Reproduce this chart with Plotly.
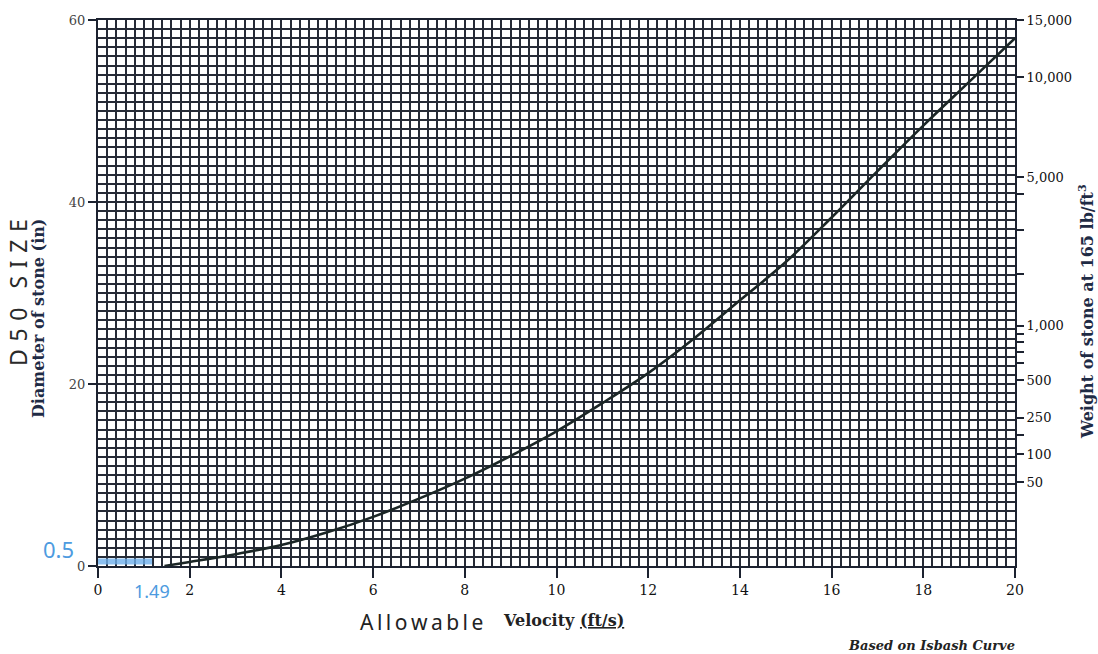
import plotly.graph_objects as go

# Isbash curve: allowable velocity (ft/s) vs. D50 stone diameter (in)
velocity = [1.45, 2, 3, 4, 5, 6, 7, 8, 9, 10, 11, 12, 13, 14, 15, 16, 17, 18, 19, 20]
diameter = [0.0, 0.45, 1.3, 2.3, 3.7, 5.4, 7.4, 9.6, 12.1, 14.8, 17.9, 21.2,
            25.0, 29.2, 33.4, 38.3, 43.4, 48.4, 53.2, 58.0]

# Stone weight scale (lb at 165 lb/ft^3), placed against the diameter scale
weight_pos = [60.0, 53.7, 42.7, 26.4, 20.4, 16.3, 12.3, 9.2]
weight_txt = ["15,000", "10,000", "5,000", "1,000", "500", "250", "100", "50"]
weight_minor_pos = [40.9, 36.9, 32.1, 25.5, 24.6, 23.5, 22.3, 14.4]

# Hand-marked reading: D50 = 0.5 in at 1.49 ft/s
mark_d = 0.5
mark_v = [0.0, 1.18]

INK = "#1c2230"
GRID = "#262b36"
BLUE = "#4d9be0"
SERIF = "DejaVu Serif"
HAND = "Noto Sans"

# plot-area box in page pixels
L, R, T, B = 98, 1015, 20, 566
W, H = 1098, 654

fig = go.Figure()

fig.add_trace(go.Scatter(
    x=mark_v, y=[mark_d, mark_d], mode="lines",
    line=dict(color="rgba(110,175,235,0.8)", width=6),
    hoverinfo="skip", showlegend=False))

fig.add_trace(go.Scatter(
    x=velocity, y=diameter, mode="lines", line_shape="spline",
    line=dict(color="#1b2626", width=2.6), showlegend=False))

# secondary axes carrying the weight ticks (labelled and unlabelled)
fig.add_trace(go.Scatter(x=[None], y=[None], yaxis="y2", showlegend=False,
                         hoverinfo="skip"))
fig.add_trace(go.Scatter(x=[None], y=[None], yaxis="y3", showlegend=False,
                         hoverinfo="skip"))

fig.update_layout(
    width=W, height=H,
    margin=dict(l=L, r=W - R, t=T, b=H - B),
    paper_bgcolor="white", plot_bgcolor="white",
    xaxis=dict(
        range=[0, 20], dtick=2, tick0=0,
        showgrid=True, gridcolor=GRID, gridwidth=1.6,
        minor=dict(dtick=0.2, showgrid=True, gridcolor=GRID, gridwidth=1.6),
        showline=True, linecolor=INK, linewidth=2, mirror=True,
        ticks="outside", ticklen=10, tickwidth=2, tickcolor=INK,
        tickfont=dict(family=SERIF, size=14, color="#111"),
        zeroline=False, fixedrange=True),
    yaxis=dict(
        range=[0, 60], dtick=20, tick0=0,
        showgrid=True, gridcolor=GRID, gridwidth=1.8,
        minor=dict(dtick=1, showgrid=True, gridcolor=GRID, gridwidth=1.6),
        showline=True, linecolor=INK, linewidth=2, mirror=True,
        ticks="outside", ticklen=8, tickwidth=1.5, tickcolor=INK,
        tickfont=dict(family=SERIF, size=13, color="#444"),
        zeroline=False, fixedrange=True),
    yaxis2=dict(
        range=[0, 60], overlaying="y", side="right",
        tickmode="array", tickvals=weight_pos, ticktext=weight_txt,
        showgrid=False, zeroline=False, showline=False,
        ticks="outside", ticklen=8, tickwidth=1.5, tickcolor=INK,
        tickfont=dict(family=SERIF, size=13, color="#111"),
        fixedrange=True),
    yaxis3=dict(
        range=[0, 60], overlaying="y", side="right",
        tickmode="array", tickvals=weight_minor_pos, showticklabels=False,
        showgrid=False, zeroline=False, showline=False,
        ticks="outside", ticklen=8, tickwidth=1.5, tickcolor=INK,
        fixedrange=True),
)

TS = "\u2009"  # thin space for the widely spaced hand lettering
annotations = [
    dict(text="<b>Diameter of stone (in)</b>", x=38, y=318, textangle=-90,
         font=dict(family=SERIF, size=16, color="#1f2b45")),
    dict(text=(TS * 2).join("D50") + TS * 5 + (TS * 2).join("SIZE"), x=18, y=293,
         textangle=-90, font=dict(family=HAND, size=23, color="#2a2a2a")),
    dict(text="<b>Weight of stone at 165 lb/ft<sup>3</sup></b>", x=1086, y=312,
         textangle=-90, font=dict(family=SERIF, size=16, color="#1f2b45")),
    dict(text=TS.join("Allowable"), x=421, y=622,
         font=dict(family=HAND, size=21, color="#222")),
    dict(text="<b>Velocity <u>(ft/s)</u></b>", x=563, y=620,
         font=dict(family=SERIF, size=16, color="#222")),
    dict(text="<b><i>Based on Isbash Curve</i></b>", x=931, y=645,
         font=dict(family=SERIF, size=13, color="#222")),
    dict(text="0.5", x=58, y=549, font=dict(family=HAND, size=22, color=BLUE)),
    dict(text="1.49", x=152, y=591, font=dict(family=HAND, size=18, color=BLUE)),
]

# annotations positioned in page pixels, converted to paper coordinates
for a in annotations:
    fig.add_annotation(
        xref="paper", yref="paper", showarrow=False,
        x=(a["x"] - L) / (R - L), y=(B - a["y"]) / (B - T),
        xanchor="center", yanchor="middle",
        text=a["text"], textangle=a.get("textangle", 0), font=a["font"])

fig.write_html("out.html")
